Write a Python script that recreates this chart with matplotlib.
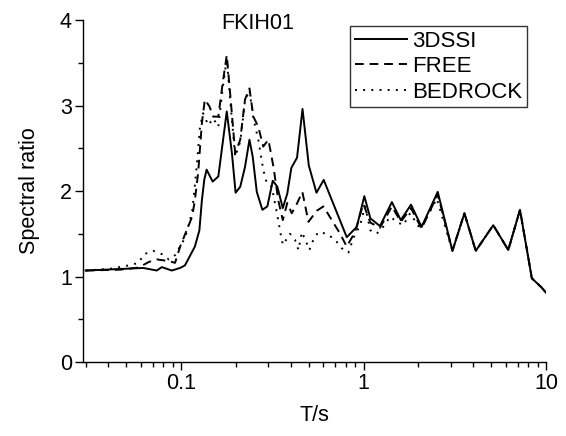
import matplotlib
matplotlib.use('Agg')
import matplotlib.pyplot as plt
from matplotlib.ticker import FixedLocator, MultipleLocator, NullFormatter


# Valori (periodo T in s, rapporto spettrale)
period_3dssi = [0.03, 0.0621, 0.0736, 0.0784, 0.0889, 0.0988, 0.105, 0.119, 0.126,
                0.130, 0.134, 0.138, 0.149, 0.160, 0.169, 0.178, 0.190, 0.199,
                0.211, 0.224, 0.237, 0.247, 0.260, 0.279, 0.297, 0.318, 0.337,
                0.361, 0.382, 0.402, 0.432, 0.463, 0.501, 0.552, 0.605, 0.809,
                0.918, 1.01, 1.09, 1.23, 1.43, 1.60, 1.82, 2.08, 2.55, 3.07,
                3.57, 4.12, 5.14, 6.21, 7.20, 8.36, 9.47, 10.0]
ratio_3dssi = [1.07, 1.10, 1.07, 1.11, 1.07, 1.10, 1.13, 1.35, 1.54,
               1.89, 2.13, 2.25, 2.11, 2.17, 2.56, 2.93, 2.44, 1.98,
               2.05, 2.28, 2.60, 2.40, 1.99, 1.78, 1.82, 2.12, 2.05,
               1.80, 1.97, 2.27, 2.39, 2.96, 2.30, 1.98, 2.13, 1.46,
               1.58, 1.94, 1.68, 1.59, 1.87, 1.66, 1.84, 1.58, 1.99, 1.30,
               1.74, 1.30, 1.60, 1.31, 1.78, 0.98, 0.87, 0.81]

period_free = [0.03, 0.0464, 0.0586, 0.0665, 0.0738, 0.0857, 0.0927, 0.0988, 0.115,
               0.119, 0.124, 0.130, 0.135, 0.143, 0.150, 0.160, 0.169, 0.178,
               0.187, 0.198, 0.211, 0.224, 0.237, 0.249, 0.265, 0.282, 0.301,
               0.321, 0.341, 0.361, 0.382, 0.404, 0.431, 0.462, 0.499, 0.555,
               0.603, 0.744, 0.809, 0.898, 0.997, 1.09, 1.23, 1.43, 1.60, 1.82,
               2.08, 2.55, 3.07, 3.57, 4.12, 5.14, 6.21, 7.20, 8.36, 9.47, 10.0]
ratio_free = [1.07, 1.08, 1.105, 1.17, 1.20, 1.18, 1.16, 1.35, 1.70,
              1.89, 2.21, 2.79, 3.07, 2.99, 2.87, 2.87, 3.26, 3.59,
              3.07, 2.44, 2.60, 3.07, 3.20, 2.87, 2.75, 2.52, 2.60,
              2.28, 1.89, 1.66, 1.86, 1.74, 1.85, 1.99, 1.64, 1.77,
              1.82, 1.50, 1.35, 1.52, 1.85, 1.63, 1.57, 1.82, 1.64, 1.80,
              1.56, 1.96, 1.30, 1.74, 1.30, 1.60, 1.31, 1.78, 0.98, 0.87, 0.81]

period_bedrock = [0.03, 0.0408, 0.0517, 0.0586, 0.0625, 0.0703, 0.0787, 0.0857, 0.0927,
                  0.105, 0.115, 0.122, 0.127, 0.132, 0.141, 0.150, 0.160, 0.169,
                  0.178, 0.187, 0.198, 0.211, 0.224, 0.237, 0.249, 0.265, 0.282,
                  0.295, 0.314, 0.334, 0.356, 0.362, 0.395, 0.421, 0.440, 0.459,
                  0.484, 0.505, 0.531, 0.565, 0.628, 0.698, 0.775, 0.826, 0.880,
                  0.957, 1.02, 1.09, 1.18, 1.28, 1.40, 1.52, 1.65, 1.80, 2.04,
                  2.31, 2.52, 3.07, 3.57, 4.12, 5.14, 6.21, 7.20, 8.36, 9.47, 10.0]
ratio_bedrock = [1.07, 1.09, 1.13, 1.16, 1.26, 1.30, 1.26, 1.20, 1.25,
                 1.45, 1.75, 2.30, 2.75, 2.91, 2.77, 2.85, 2.75, 3.20,
                 3.55, 3.00, 2.40, 2.58, 3.05, 3.18, 2.85, 2.60, 2.25,
                 2.09, 2.05, 1.76, 1.43, 1.37, 1.50, 1.43, 1.31, 1.52,
                 1.41, 1.31, 1.43, 1.52, 1.50, 1.43, 1.31, 1.28, 1.45,
                 1.60, 1.82, 1.54, 1.50, 1.58, 1.70, 1.64, 1.60, 1.74, 1.56,
                 1.76, 1.91, 1.30, 1.74, 1.30, 1.60, 1.31, 1.78, 0.98, 0.87, 0.81]

x_major = [0.1, 1, 10]
x_labels = ['0.1', '1', '10']


def main():

    plt.rcParams['font.family'] = ['Liberation Sans', 'DejaVu Sans']
    plt.rcParams['font.size'] = 15.5

    fig = plt.figure(figsize=(5.66, 4.36), dpi=100)
    ax = fig.add_axes([0.1466, 0.1697, 0.8181, 0.7844])

    ax.plot(period_3dssi, ratio_3dssi, color='black', lw=1.4, ls='-', label='3DSSI')
    ax.plot(period_free, ratio_free, color='black', lw=1.4, ls=(0, (4.5, 3)), label='FREE')
    ax.plot(period_bedrock, ratio_bedrock, color='black', lw=1.4, ls=(0, (1, 3.2)), label='BEDROCK')

    ax.set_xscale('log')
    ax.set_xlim(0.029, 10)
    ax.set_ylim(0, 4)

    ax.xaxis.set_major_locator(FixedLocator(x_major))
    ax.set_xticklabels(x_labels)
    minor = [m * d for d in (0.01, 0.1, 1) for m in range(2, 10)]
    ax.xaxis.set_minor_locator(FixedLocator(minor))
    ax.xaxis.set_minor_formatter(NullFormatter())
    ax.yaxis.set_major_locator(MultipleLocator(1))
    ax.yaxis.set_minor_locator(MultipleLocator(0.5))

    ax.tick_params(which='major', direction='out', length=6, width=1, pad=2)
    ax.tick_params(which='minor', direction='out', length=3.5, width=1)

    for side in ('top', 'right'):
        ax.spines[side].set_visible(False)
    for side in ('left', 'bottom'):
        ax.spines[side].set_linewidth(1)

    ax.set_xlabel('T/s', labelpad=8)
    ax.set_ylabel('Spectral ratio', labelpad=14)

    ax.text(0.378, 0.991, 'FKIH01', transform=ax.transAxes, ha='center', va='center')

    leg = ax.legend(loc='upper right', bbox_to_anchor=(0.959, 0.982), borderaxespad=0,
                    fancybox=False, framealpha=1, edgecolor='#333333',
                    handlelength=2.35, handletextpad=0.25, labelspacing=0.2,
                    borderpad=0.2, fontsize=16)
    leg.get_frame().set_linewidth(1)

    fig.savefig('out.png', dpi=100)


if __name__ == '__main__':
    main()
